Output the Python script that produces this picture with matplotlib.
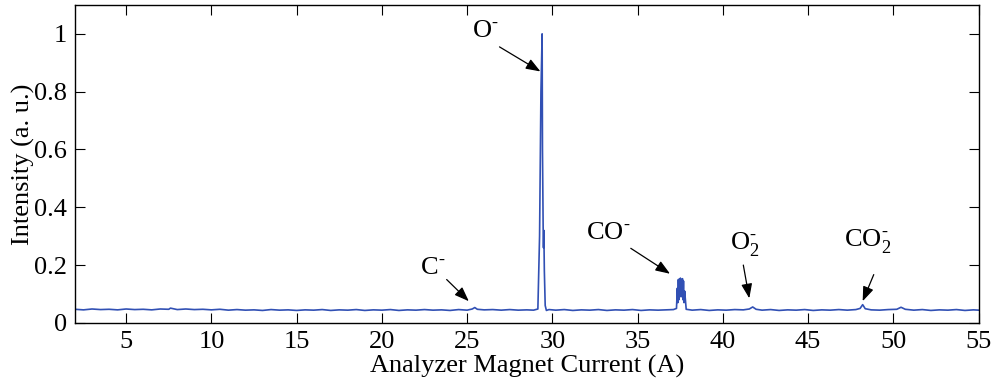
import matplotlib
matplotlib.use("Agg")
import matplotlib.pyplot as plt

plt.rcParams['font.family'] = ['Liberation Serif', 'DejaVu Serif']
plt.rcParams['mathtext.fontset'] = 'stix'

# Spectrum: analyzer magnet current (A) vs normalized intensity (rows of 10)
current = [
    2.0, 2.5, 3.0, 3.5, 4.0, 4.5, 5.0, 5.5, 6.0, 6.5,
    7.0, 7.5, 7.6, 8.0, 8.5, 9.0, 9.5, 10.0, 10.5, 11.0,
    11.5, 12.0, 12.5, 13.0, 13.5, 14.0, 14.5, 15.0, 15.5, 16.0,
    16.5, 17.0, 17.5, 18.0, 18.5, 19.0, 19.5, 20.0, 20.5, 21.0,
    21.5, 22.0, 22.5, 23.0, 23.5, 24.0, 24.5, 25.0, 25.3, 25.45,
    25.6, 26.0, 26.5, 27.0, 27.5, 28.0, 28.5, 28.9, 29.15, 29.25,
    29.33, 29.40, 29.42, 29.46, 29.48, 29.50, 29.53, 29.58, 29.65, 29.8,
    30.2, 30.7, 31.2, 31.7, 32.2, 32.7, 33.2, 33.7, 34.2, 34.7,
    35.2, 35.7, 36.2, 36.7, 37.1, 37.28, 37.33, 37.36, 37.39, 37.42,
    37.45, 37.48, 37.51, 37.54, 37.57, 37.60, 37.63, 37.66, 37.69, 37.72,
    37.76, 37.85, 38.2, 38.7, 39.2, 39.7, 40.2, 40.7, 41.2, 41.55,
    41.75, 41.95, 42.3, 42.8, 43.3, 43.8, 44.3, 44.8, 45.3, 45.8,
    46.3, 46.8, 47.3, 47.8, 48.05, 48.2, 48.35, 48.7, 49.2, 49.7,
    50.2, 50.45, 50.7, 51.2, 51.7, 52.2, 52.7, 53.2, 53.7, 54.2,
    54.7, 55.0]
intensity = [
    0.047, 0.045, 0.048, 0.046, 0.047, 0.045, 0.048, 0.046, 0.047, 0.045,
    0.048, 0.047, 0.051, 0.046, 0.048, 0.046, 0.047, 0.045, 0.047, 0.044,
    0.046, 0.044, 0.045, 0.043, 0.046, 0.044, 0.045, 0.043, 0.045, 0.044,
    0.046, 0.043, 0.045, 0.044, 0.046, 0.043, 0.045, 0.044, 0.046, 0.043,
    0.045, 0.044, 0.046, 0.044, 0.045, 0.043, 0.046, 0.044, 0.048, 0.053,
    0.047, 0.045, 0.046, 0.044, 0.046, 0.044, 0.045, 0.044, 0.048, 0.30,
    0.80, 1.00, 0.60, 0.33, 0.26, 0.32, 0.18, 0.06, 0.043, 0.046,
    0.044, 0.046, 0.043, 0.045, 0.044, 0.046, 0.043, 0.045, 0.044, 0.046,
    0.043, 0.045, 0.044, 0.045, 0.046, 0.05, 0.12, 0.07, 0.15, 0.08,
    0.152, 0.09, 0.155, 0.10, 0.148, 0.09, 0.153, 0.08, 0.145, 0.07,
    0.11, 0.047, 0.044, 0.046, 0.043, 0.045, 0.044, 0.046, 0.045, 0.048,
    0.055, 0.047, 0.044, 0.046, 0.043, 0.045, 0.044, 0.046, 0.043, 0.045,
    0.044, 0.046, 0.044, 0.046, 0.050, 0.063, 0.049, 0.045, 0.044, 0.046,
    0.047, 0.054, 0.047, 0.044, 0.046, 0.043, 0.045, 0.044, 0.046, 0.043,
    0.045, 0.044]

x_ticks = [5, 10, 15, 20, 25, 30, 35, 40, 45, 50, 55]
y_ticks = [0, 0.2, 0.4, 0.6, 0.8, 1]
y_tick_labels = ['0', '0.2', '0.4', '0.6', '0.8', '1']

# annotation labels: text, text position, arrow tail, arrow head
HY = '\\mathregular{\u2010}'
labels = ['C$^{' + HY + '}$', 'O$^{' + HY + '}$', 'CO$^{' + HY + '}$',
          'O$_{\\mathregular{2}}^{' + HY + '}$', 'CO$_{\\mathregular{2}}^{' + HY + '}$']
label_pos = [(23.0, 0.19), (26.1, 1.01), (33.3, 0.312), (41.3, 0.27), (48.5, 0.28)]
arrow_tail = [(23.8, 0.15), (26.9, 0.955), (34.6, 0.258), (41.2, 0.20), (48.85, 0.167)]
arrow_head = [(25.1, 0.075), (29.3, 0.87), (36.9, 0.17), (41.55, 0.085), (48.2, 0.075)]

fig = plt.figure(figsize=(9.93, 3.83), dpi=100)
ax = fig.add_axes([0.0755, 0.157, 0.910, 0.830])
ax.plot(current, intensity, color='#3150b4', lw=1.2)

ax.set_xlim(2, 55)
ax.set_ylim(0, 1.1)
ax.set_xticks(x_ticks)
ax.set_yticks(y_ticks)
ax.set_yticklabels(y_tick_labels)
ax.tick_params(direction='in', length=7, width=0.8, top=True, right=True,
               labelsize=19, pad=6)
for s in ax.spines.values():
    s.set_linewidth(1.0)
ax.set_xlabel('Analyzer Magnet Current (A)', fontsize=19, labelpad=1)
ax.set_ylabel('Intensity (a. u.)', fontsize=19, labelpad=-1)

for t, p, tail, head in zip(labels, label_pos, arrow_tail, arrow_head):
    ax.text(p[0], p[1], t, fontsize=19, ha='center', va='center')
    ax.annotate('', xy=head, xytext=tail,
                arrowprops=dict(arrowstyle='-|>,head_length=0.8,head_width=0.3',
                                color='black', lw=0.9, mutation_scale=11,
                                shrinkA=0, shrinkB=0))

fig.savefig('out.png', dpi=100)
